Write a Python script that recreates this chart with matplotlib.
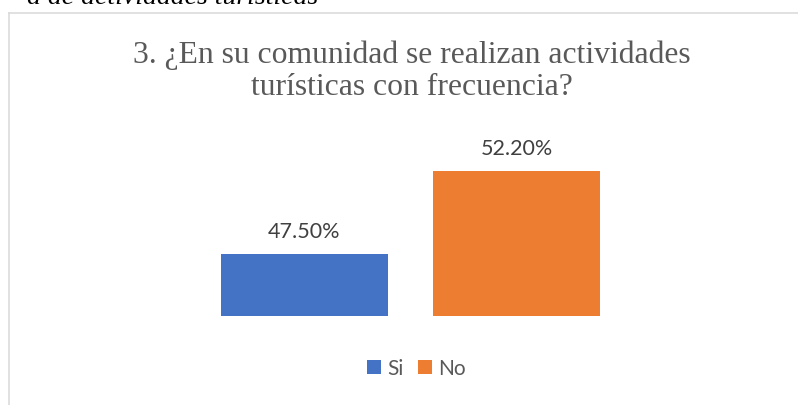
import matplotlib
matplotlib.use("Agg")
import matplotlib.pyplot as plt
from matplotlib.lines import Line2D

# Data
categories = ["Si", "No"]
values = [47.5, 52.2]
labels = ["47.50%", "52.20%"]
colors = ["#4472C4", "#ED7D31"]
title_lines = ["3. ¿En su comunidad se realizan actividades", "turísticas con frecuencia?"]
caption = "a de actividades turísticas"

W, H = 798, 406
fig = plt.figure(figsize=(W / 100, H / 100), dpi=100)

def fx(px):
    return px / W

def fy(py):
    return (H - py) / H

# Plot area: y from 158 px (top) to 317 px (bottom)
ax = fig.add_axes([fx(177.3), fy(317), fx(643.7) - fx(177.3), fy(158) - fy(317)])
bars = ax.bar(range(len(categories)), values, width=0.788, color=colors, label=categories)
ax.set_xlim(-0.6, 1.6)
ax.set_ylim(44, 53)
ax.axis("off")

for i, (v, lab) in enumerate(zip(values, labels)):
    ax.annotate(lab, xy=(i, v), xytext=(0, 12.6), textcoords="offset points",
                ha="center", va="baseline", fontsize=15.5, color="#404040",
                family="Lato")

# Title
fig.text(fx(412), fy(63), title_lines[0], ha="center", va="baseline",
         fontsize=22.8, color="#595959", family="Liberation Serif")
fig.text(fx(412), fy(95), title_lines[1], ha="center", va="baseline",
         fontsize=22.8, color="#595959", family="Liberation Serif")

# Legend
leg = fig.legend(handles=bars.patches, labels=categories, loc="center",
                 bbox_to_anchor=(fx(416), fy(369)), ncol=2, frameon=False,
                 prop={"family": "Lato", "size": 15},
                 handlelength=0.67, handleheight=0.67, handletextpad=0.3,
                 columnspacing=0.7)
for t in leg.get_texts():
    t.set_color("#595959")

# Chart border (left and top visible)
fig.add_artist(Line2D([fx(8.5), fx(8.5)], [0, fy(13.5)], color="#D9D9D9", lw=1.1))
fig.add_artist(Line2D([fx(8.5), 1], [fy(13.5), fy(13.5)], color="#D9D9D9", lw=1.1))

# Cut-off caption at top
fig.text(fx(318), fy(4), caption, ha="right", va="baseline", fontsize=20,
         style="italic", color="black", family="Liberation Serif")

fig.savefig("out.png", dpi=100)
